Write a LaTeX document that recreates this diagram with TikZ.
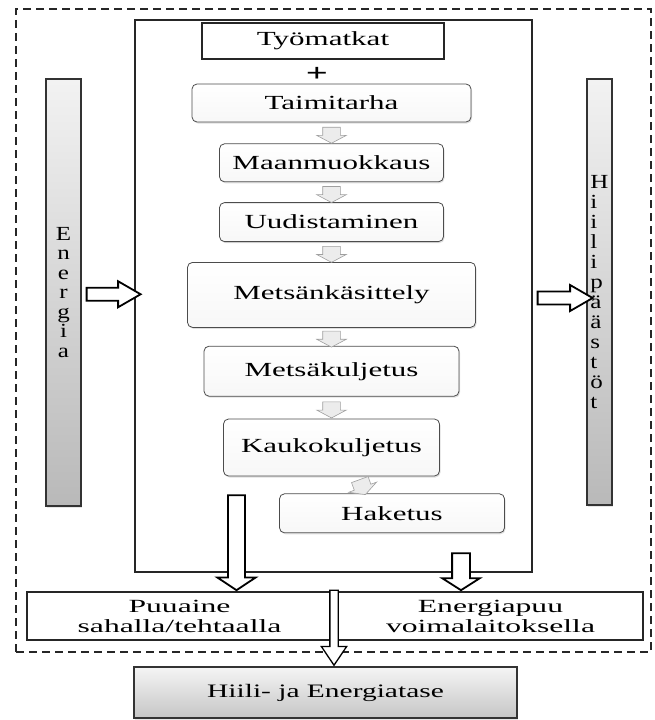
\documentclass[tikz,border=0pt]{standalone}
\usepackage{fontspec}
\setmainfont{Liberation Serif}[FakeStretch=1.55]
\newfontfamily\barfont{Liberation Serif}[FakeStretch=1.25]
\newfontfamily\widefont{Liberation Serif}[FakeStretch=1.7]
\usetikzlibrary{positioning,calc,shapes.arrows,shadows}

\tikzset{
  flowbox/.style={draw=gray!60!black, line width=0.8pt, rounded corners=5pt,
    top color=white, bottom color=gray!6, inner sep=0pt,
    font=\fontsize{20}{24}\selectfont,
    drop shadow={opacity=0.25, shadow xshift=1pt, shadow yshift=-1.5pt}},
  plainbox/.style={draw=black!85, line width=1.5pt, fill=white, inner sep=0pt},
  gradbar/.style={draw=black!80, line width=1.2pt, top color=gray!10,
    bottom color=gray!55, inner sep=0pt,
    drop shadow={opacity=0.2, shadow xshift=1pt, shadow yshift=-1.5pt}},
  bigarrow/.style={single arrow, draw=black, fill=white, line width=1.8pt,
    inner xsep=0pt, inner ysep=5.6pt, single arrow head extend=6.5pt,
    single arrow tip angle=60, text height=0pt, text depth=0pt},
  smallarrow/.style={single arrow, draw=gray!75, fill=gray!15, line width=0.6pt,
    rotate=-90, minimum height=16pt, inner xsep=0pt, inner ysep=8.5pt,
    single arrow head extend=6pt, single arrow tip angle=124,
    text height=0pt, text depth=0pt},
  dashbox/.style={draw=black!85, line width=1.4pt, dash pattern=on 8pt off 5pt}
}

\begin{document}
\begin{tikzpicture}[x=1pt, y=1pt]
  \useasboundingbox (0,0) rectangle (655,-720);

  \node (outer) [dashbox, minimum width=635pt, minimum height=643pt] at (333.5,-330.5) {};
  \node (inner) [draw=black!85, line width=1.2pt, minimum width=397pt, minimum height=552pt] at (333.5,-296) {};

  \node (tyo) [plainbox, minimum width=242pt, minimum height=36pt,
    font=\fontsize{20}{24}\selectfont] at (323,-41) {Työmatkat};
  \node (plus) [font=\bfseries\fontsize{25}{28}\selectfont] at (317,-74) {+};

  \node (taimi) [flowbox, minimum width=279pt, minimum height=38pt] at (331.5,-103) {Taimitarha};
  \node (maan) [flowbox, minimum width=224pt, minimum height=38pt, below=21pt of taimi] {Maanmuokkaus};
  \node (uudis) [flowbox, minimum width=224pt, minimum height=39pt, below=20pt of maan] {Uudistaminen};
  \node (kasit) [flowbox, minimum width=288pt, minimum height=65pt, below=20pt of uudis] {Metsänkäsittely};
  \node (metsak) [flowbox, minimum width=255pt, minimum height=50pt, below=18pt of kasit] {Metsäkuljetus};
  \node (kauko) [flowbox, minimum width=216pt, minimum height=57pt, below=22pt of metsak] {Kaukokuljetus};
  \node (hake) [flowbox, minimum width=225pt, minimum height=39pt, below=17pt of kauko, xshift=60.5pt] {Haketus};

  \node (a1) [smallarrow] at ($(taimi.south)!0.5!(maan.north)$) {};
  \node (a2) [smallarrow] at ($(maan.south)!0.5!(uudis.north)$) {};
  \node (a3) [smallarrow] at ($(uudis.south)!0.5!(kasit.north)$) {};
  \node (a4) [smallarrow] at ($(kasit.south)!0.5!(metsak.north)$) {};
  \node (a5) [smallarrow] at ($(metsak.south)!0.5!(kauko.north)$) {};
  \node (a6) [smallarrow, rotate=20] at ($(kauko.south)!0.5!(hake.north)$) {};

  \node (energia) [gradbar, minimum width=35pt, minimum height=427pt, align=center,
    font=\barfont\fontsize{20}{19.5}\selectfont] at (63.5,-292.5)
    {E\\n\\e\\r\\g\\i\\a};
  \node (paasto) [gradbar, minimum width=25pt, minimum height=426pt, align=left,
    font=\barfont\fontsize{20}{20}\selectfont] at (599.5,-292)
    {H\\i\\i\\l\\i\\p\\ä\\ä\\s\\t\\ö\\t};

  \node (eArrow) [bigarrow, minimum height=54pt] at ($(energia.east)!0.5!(inner.west)$) {};
  \node (pArrow) [bigarrow, minimum height=55pt, yshift=-4pt] at ($(inner.east)!0.5!(paasto.west)$) {};

  \node (puu) [plainbox, minimum width=305pt, minimum height=48pt, align=center,
    font=\widefont\fontsize{18.6}{20}\selectfont] at (179.5,-616)
    {Puuaine\\sahalla/tehtaalla};
  \node (epuu) [plainbox, minimum width=305pt, minimum height=48pt, align=center,
    font=\widefont\fontsize{18.6}{20}\selectfont] at (490.5,-616)
    {Energiapuu\\voimalaitoksella};
  \node (tase) [gradbar, minimum width=383pt, minimum height=51pt,
    top color=gray!8, bottom color=gray!45,
    font=\fontsize{19}{23}\selectfont] at (325.5,-692.5) {Hiili- ja Energiatase};

  \node (puuArrow) [bigarrow, rotate=-90, minimum height=95pt, inner ysep=7.6pt,
    single arrow head extend=10.7pt, single arrow tip angle=113, anchor=tip]
    at ([xshift=57pt]puu.north) {};
  \node (epuuArrow) [bigarrow, rotate=-90, minimum height=37pt, inner ysep=8pt,
    single arrow head extend=10pt, single arrow tip angle=115, anchor=tip]
    at ([xshift=-29.5pt]epuu.north) {};
  \node (taseArrow) [bigarrow, line width=1.3pt, rotate=-90, minimum height=75pt,
    inner ysep=3.5pt, single arrow head extend=8.5pt, single arrow tip angle=68,
    anchor=tip] at ([xshift=8.5pt]tase.north) {};
\end{tikzpicture}
\end{document}
